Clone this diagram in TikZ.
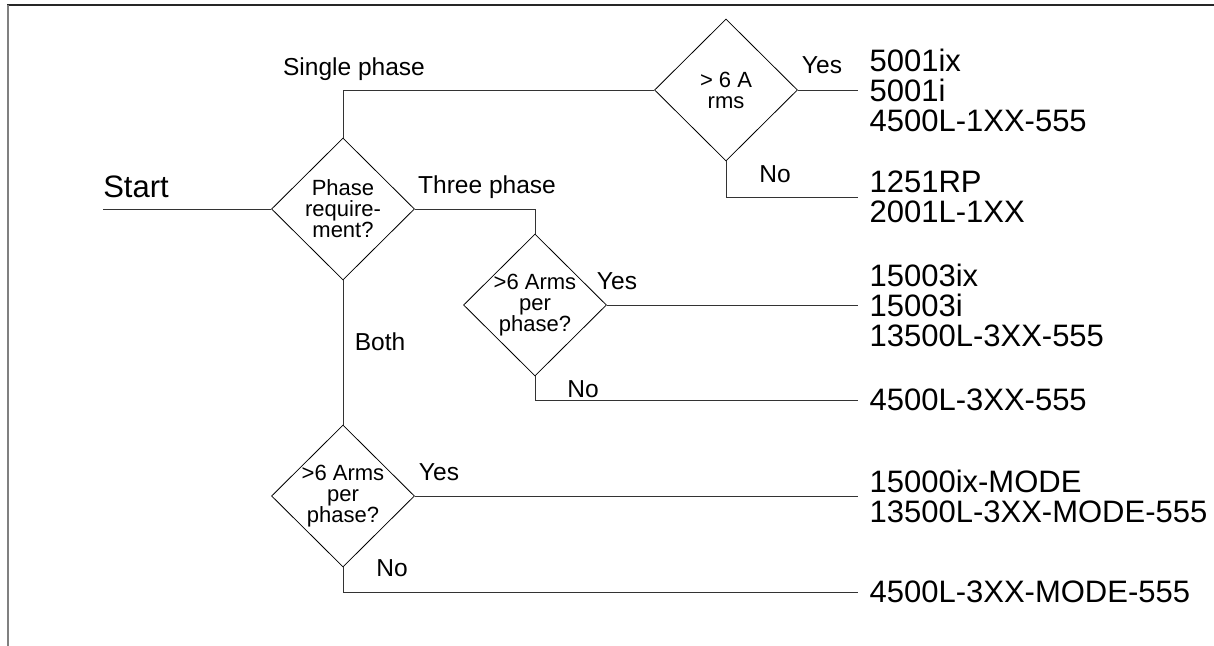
\documentclass[tikz,border=0pt]{standalone}
\usepackage{fontspec}
\setmainfont{Liberation Sans}
\usetikzlibrary{shapes.geometric}
\tikzset{
  dia/.style={diamond, draw, line width=0.6pt, minimum width=107.25pt, minimum height=106.5pt, inner sep=0pt},
  dtext/.style={font=\fontsize{16.5}{15.75}\selectfont, align=center, inner sep=0pt},
  lbl/.style={font=\fontsize{18.4}{20}\selectfont, inner sep=0pt, anchor=base},
  part/.style={font=\fontsize{23.25}{22.5}\selectfont, align=left, anchor=west, inner xsep=8.5pt, inner ysep=0pt},
  wire/.style={line width=0.6pt, black!80}
}
\begin{document}
\begin{tikzpicture}[x=0.75pt, y=-0.75pt]
\useasboundingbox (0,0) rectangle (1214,646);

\draw[line width=1.1pt, black!85] (7,5) -- (1214,5);
\draw[line width=1.5pt, black!50] (8,5) -- (8,646);

\node[dia, label={[dtext]center:{Phase\\require-\\ment?}}] (phase) at (343,209) {};
\node[dia, label={[dtext]center:{> 6 A\\rms}}] (rms) at (726,90) {};
\node[dia, label={[dtext]center:{>6 Arms\\per\\phase?}}] (arms3) at (535,305) {};
\node[dia, label={[dtext]center:{>6 Arms\\per\\phase?}}] (armsb) at (343,496) {};

\coordinate (s0) at (103,209);
\node[font=\fontsize{23.25}{22.5}\selectfont, inner sep=0pt, anchor=base west] (start) at (103,197) {Start};

\node[part] (o1) at (858,90) {5001ix\\5001i\\4500L-1XX-555};
\node[part] (o2) at (858,197) {1251RP\\2001L-1XX};
\node[part] (o3) at (858,305) {15003ix\\15003i\\13500L-3XX-555};
\node[part] (o4) at (858,400) {4500L-3XX-555};
\node[part] (o5) at (858,496) {15000ix-MODE\\13500L-3XX-MODE-555};
\node[part] (o6) at (858,592) {4500L-3XX-MODE-555};

\draw[wire] (s0) -- (phase.west);
\draw[wire] (phase.north) |- (rms.west);
\draw[wire] (phase.east) -| (arms3.north);
\draw[wire] (phase.south) -- (armsb.north);
\draw[wire] (rms.east) -- (o1.west);
\draw[wire] (rms.south) |- (o2.west);
\draw[wire] (arms3.east) -- (o3.west);
\draw[wire] (arms3.south) |- (o4.west);
\draw[wire] (armsb.east) -- (o5.west);
\draw[wire] (armsb.south) |- (o6.west);

\node[lbl] (single) at (354,75) {Single phase};
\node[lbl] (three) at (487,193) {Three phase};
\node[lbl] (both) at (380,350) {Both};
\node[lbl] (yes1) at (822,73) {Yes};
\node[lbl] (no1) at (775,182) {No};
\node[lbl] (yes2) at (617,289) {Yes};
\node[lbl] (no2) at (583,397) {No};
\node[lbl] (yes3) at (439,480) {Yes};
\node[lbl] (no3) at (392,576) {No};
\end{tikzpicture}
\end{document}
